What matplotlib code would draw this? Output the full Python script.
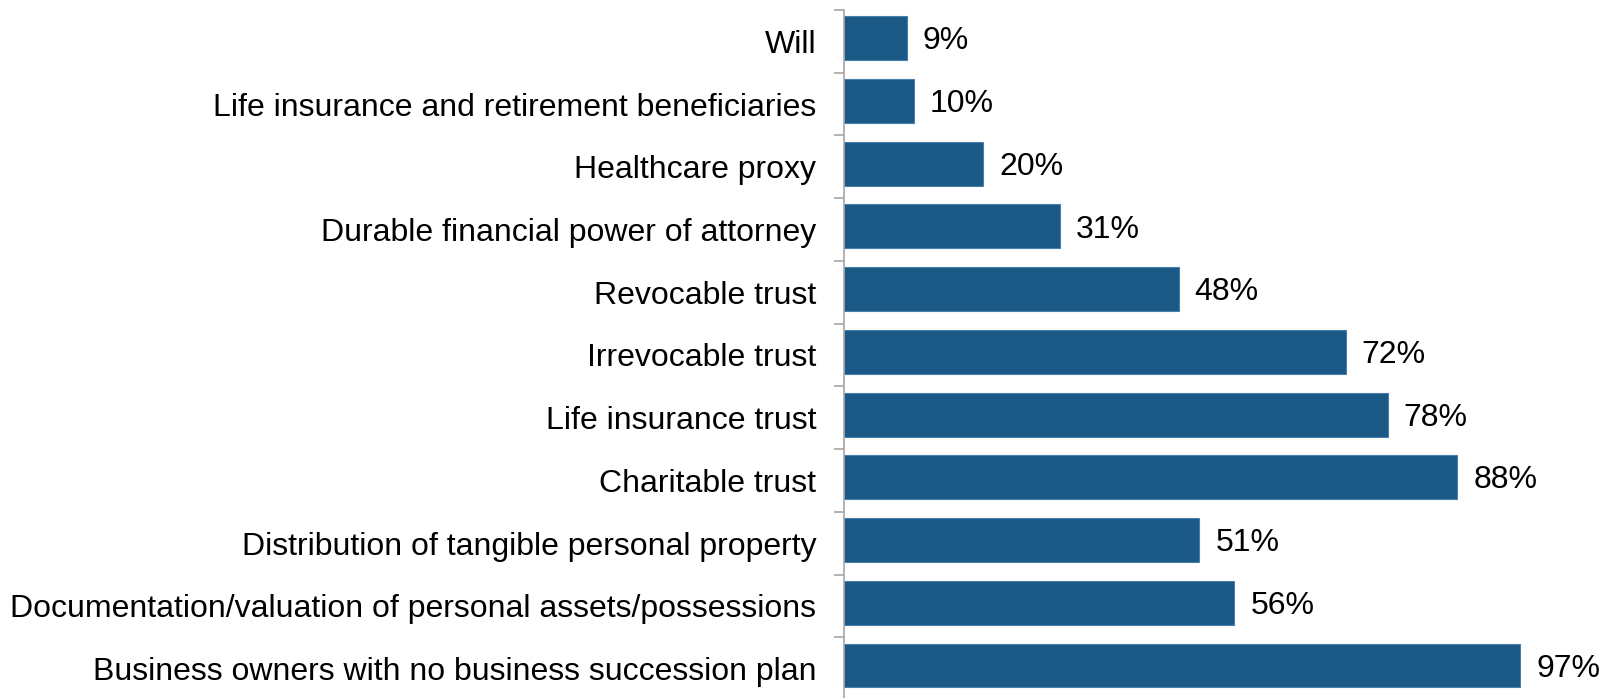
import numpy as np
import matplotlib.pyplot as plt
from matplotlib.ticker import FixedLocator

plt.rcParams['font.family'] = ['Liberation Sans', 'DejaVu Sans']

# categories top to bottom, with share in percent
categories = ['Will',
              'Life insurance and retirement beneficiaries',
              'Healthcare proxy',
              'Durable financial power of attorney',
              'Revocable trust',
              'Irrevocable trust',
              'Life insurance trust',
              'Charitable trust',
              'Distribution of tangible personal property',
              'Documentation/valuation of personal assets/possessions',
              'Business owners with no business succession plan']
values = [9, 10, 20, 31, 48, 72, 78, 88, 51, 56, 97]

bar_color = '#1A5886'
axis_color = '#A6A6A6'

fig = plt.figure(figsize=(16.06, 6.98), dpi=100)
ax = fig.add_axes([844 / 1606, -2 / 698, 0.434, 690 / 698])

y = np.arange(len(categories))
ax.barh(y - 0.05, values, height=0.7, color=bar_color, edgecolor='#4A7FAD', linewidth=0.8)

for yi, v in zip(y, values):
    ax.text(v + 2.3, yi, f'{v}%', va='center', ha='left', fontsize=23)

ax.set_xlim(0, 100)
ax.set_ylim(len(categories) - 0.5, -0.5)
ax.set_yticks(y)
ax.set_yticklabels(categories, fontsize=23)
ax.yaxis.set_minor_locator(FixedLocator(np.arange(-0.5, len(categories), 1)))
ax.tick_params(axis='y', which='major', length=0, pad=20)
ax.tick_params(axis='y', which='minor', length=7, color=axis_color, width=1.2)
ax.set_xticks([])

for s in ['top', 'right', 'bottom']:
    ax.spines[s].set_visible(False)
ax.spines['left'].set_color(axis_color)
ax.spines['left'].set_linewidth(1.2)

fig.savefig('out.png', dpi=100)
